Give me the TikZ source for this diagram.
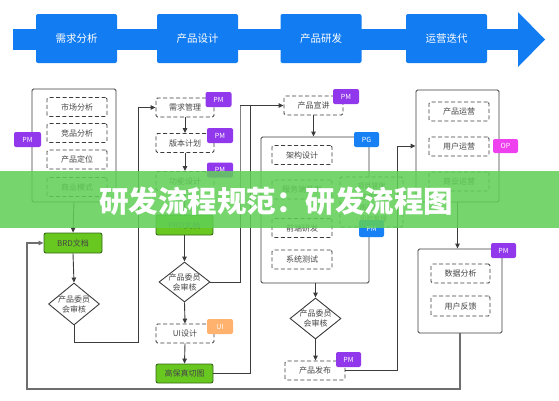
\documentclass[tikz,border=0pt]{standalone}
\usepackage{fontspec}
\setmainfont{Noto Sans CJK SC}
\usetikzlibrary{arrows.meta,shapes.geometric}
\definecolor{barblue}{RGB}{18,124,242}
\definecolor{linec}{RGB}{60,60,60}
\definecolor{textc}{RGB}{70,70,70}
\definecolor{grn}{RGB}{104,200,32}
\definecolor{grnd}{RGB}{55,105,25}
\definecolor{tagpurple}{RGB}{146,56,236}
\definecolor{tagblue}{RGB}{22,128,244}
\definecolor{tagmag}{RGB}{238,64,238}
\definecolor{tagorange}{RGB}{255,178,110}
\definecolor{loopc}{RGB}{110,110,110}
\definecolor{banner}{RGB}{96,208,86}
\newcommand{\smalltext}{\fontsize{8}{10}\selectfont}
\begin{document}
\begin{tikzpicture}[x=1pt,y=-1pt,
  phase/.style={fill=barblue, rounded corners=2, minimum width=81, minimum height=49, text=white, font=\fontsize{10.5}{12}\selectfont, inner sep=0},
  solidbox/.style={draw=linec, line width=0.9, rounded corners=1.5, inner sep=0},
  dashbox/.style={draw=linec, line width=0.9, dash pattern=on 4pt off 2.5pt, rounded corners=1.5, minimum width=60, minimum height=19, inner sep=0, font=\smalltext, text=textc},
  greenbox/.style={fill=grn, draw=grnd, line width=0.9, rounded corners=2, minimum width=57, minimum height=20, inner sep=0, font=\smalltext, text=textc},
  tag/.style={rounded corners=2, text=white, minimum width=26, minimum height=15, inner sep=0, font=\fontsize{7}{7}\selectfont},
  dia/.style={diamond, draw=linec, line width=0.9, minimum width=51, minimum height=42, inner sep=0, fill=white},
  dlabel/.style={label={[align=center, font=\smalltext, text=textc]center:{产品委员\\会审核}}},
  conn/.style={draw=linec, line width=0.9},
  arr/.style={conn, -{Triangle[length=5pt,width=4.5pt]}},
  loop/.style={draw=loopc, line width=1.1}
]
\useasboundingbox (0,0) rectangle (559,400);
\fill[white] (0,0) rectangle (559,400);

% top bar
\fill[barblue] (13,29) rectangle (519,50);
\fill[barblue] (518,12) -- (545,39.5) -- (518,67) -- cycle;
\node[phase] (p1) at (76.5,38.5) {需求分析};
\node[phase] (p2) at (197.5,38.5) {产品设计};
\node[phase] (p3) at (321,38.5) {产品研发};
\node[phase] (p4) at (446.5,38.5) {运营迭代};

% column A
\node[solidbox, minimum width=84, minimum height=113] (oa) at (74,145.5) {};
\node[dashbox] (a1) at (77,107) {市场分析};
\node[dashbox] (a2) at (77,133) {竞品分析};
\node[dashbox] (a3) at (77,159.5) {产品定位};
\node[dashbox] (a4) at (77,187) {商业模式};
\node[tag, fill=tagpurple, minimum width=27] (ta) at (27.5,139.5) {PM};
\node[greenbox, minimum width=58] (brd) at (73,243) {BRD文档};
\node[dia, dlabel] (d1) at (74,304) {};

% column B
\node[dashbox, minimum width=58] (b1) at (185,107.5) {需求管理};
\node[tag, fill=tagpurple] (tb1) at (218.5,99.5) {PM};
\node[dashbox, minimum width=58] (b2) at (185,143) {版本计划};
\node[tag, fill=tagpurple] (tb2) at (220,135.5) {PM};
\node[dashbox, minimum width=58] (b3) at (185,181) {功能设计};
\node[tag, fill=tagpurple] (tb3) at (220,170) {PM};
\node[greenbox] (prd) at (184.5,225) {PRD文档};
\node[dia, dlabel, minimum height=40] (d2) at (184.5,282) {};
\node[dashbox, minimum width=58] (ui) at (185,333.5) {UI设计};
\node[tag, fill=tagorange] (tui) at (220,326.5) {UI};
\node[greenbox, minimum height=19] (gb) at (184.5,373.5) {高保真切图};

% column C
\node[dashbox, minimum width=59] (cx) at (313.5,105.5) {产品宣讲};
\node[tag, fill=tagpurple] (tc) at (346,96.5) {PM};
\node[solidbox, minimum width=108, minimum height=146] (oc) at (315,210) {};
\node[dashbox] (c1) at (302,155) {架构设计};
\node[dashbox] (c2) at (302,189.5) {服务端开发};
\node[dashbox] (c3) at (302,228) {前端研发};
\node[dashbox] (c4) at (302,259.5) {系统测试};
\node[dashbox, fill=white, minimum width=63, minimum height=50, align=center, font=\fontsize{6.8}{11}\selectfont] (pm) at (371.5,202) {项目管理\\- 进度管理\\- 质量管理\\- 风险管理};
\node[tag, fill=tagblue, minimum width=25] (tpg) at (366.5,139.5) {PG};
\node[tag, fill=tagblue, minimum width=25, minimum height=17] (tpm) at (371.5,228.5) {PM};
\node[dia, dlabel, minimum height=41] (d3) at (315.5,318.5) {};
\node[dashbox] (fb) at (315,370.5) {产品发布};
\node[tag, fill=tagpurple, minimum width=25] (tf) at (348.5,359.5) {PM};

% column D
\node[solidbox, minimum width=83, minimum height=112] (od) at (457.5,146) {};
\node[dashbox] (e1) at (459,111.5) {产品运营};
\node[dashbox] (e2) at (459,146.5) {用户运营};
\node[dashbox] (e3) at (459,181.5) {商业运营};
\node[tag, fill=tagmag, minimum width=25, minimum height=14] (top) at (505.5,146) {OP};
\node[solidbox, minimum width=84, minimum height=84] (oe) at (460,291) {};
\node[dashbox, minimum width=59] (f1) at (460.5,273.5) {数据分析};
\node[dashbox, minimum width=59, minimum height=20] (f2) at (460.5,306) {用户反馈};
\node[tag, fill=tagpurple, minimum width=25] (te) at (503.5,250.5) {PM};

% helper coordinates
\coordinate (k1) at (138,342);
\coordinate (k2) at (240,106);
\coordinate (k3) at (250,106);
\coordinate (k4) at (397,146);
\coordinate (k5) at (460,389);
\coordinate (k6) at (27,389);

% connectors
\draw[arr] (oa.south) -- (brd.north);
\draw[arr] (brd.south) -- (d1.north);
\draw[arr] (d1.south) |- (k1) |- (b1.west);
\draw[arr] (b1.south) -- (b2.north);
\draw[arr] (b2.south) -- (b3.north);
\draw[arr] (b3.south) -- (prd.north);
\draw[arr] (prd.south) -- (d2.north);
\draw[arr] (d2.south) -- (ui.north);
\draw[arr] (ui.south) -- (gb.north);
\draw[arr] (d2.east) -| (k2) |- (cx.west);
\draw[conn] (gb.east) -| (k3);
\draw[arr] (cx.south) -- (cx.south |- oc.north);
\draw[arr] (oc.south -| d3.north) -- (d3.north);
\draw[arr] (d3.south) -- (d3.south |- fb.north);
\draw[arr] (fb.east) -| (k4) -- (od.west);
\draw[arr] (od.south) -- (od.south |- oe.north);
\draw[loop, -{Triangle[length=5pt,width=4.5pt]}] (oe.south) -- (k5) -- (k6) |- (brd.west);

% banner
\fill[banner, opacity=0.86] (0,171) rectangle (559,228);
\node[text=white, font=\bfseries\fontsize{29.5}{32}\selectfont, inner sep=0] (title) at (276,201) {研发流程规范：研发流程图};
\end{tikzpicture}
\end{document}
